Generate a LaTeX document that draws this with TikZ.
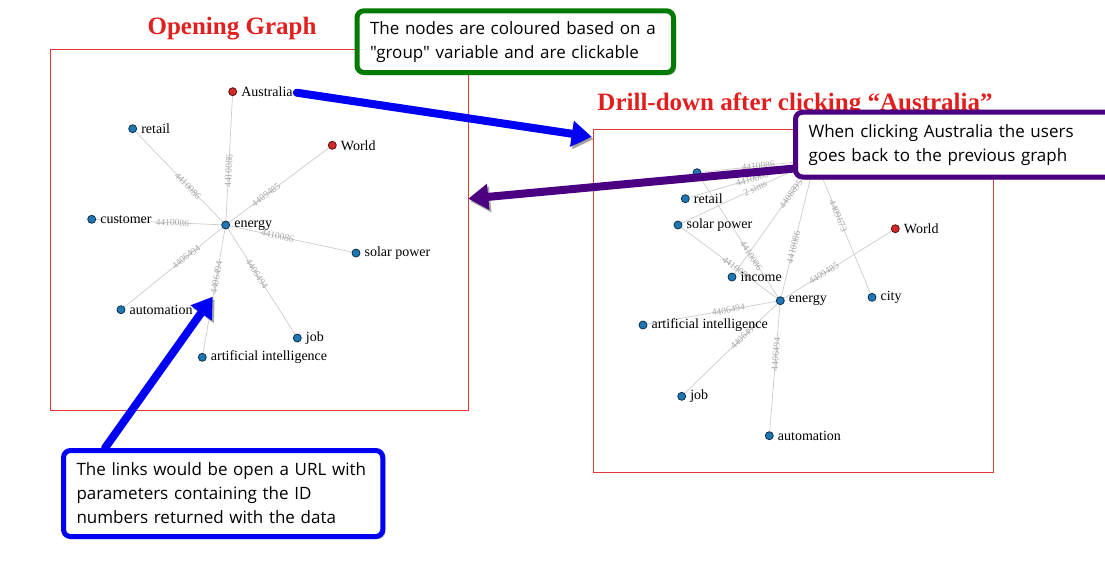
\documentclass[tikz,border=0pt]{standalone}
\usepackage{fontspec}
\setmainfont{Liberation Serif}
\newfontfamily\notefont{Open Sans}
\usetikzlibrary{arrows.meta,shadows}

\definecolor{dotblue}{HTML}{1F77B4}
\definecolor{dotred}{HTML}{D62728}
\definecolor{titlered}{HTML}{E0201E}
\definecolor{framered}{HTML}{E8353A}
\definecolor{notegreen}{HTML}{007A00}
\definecolor{notepurple}{HTML}{4B0082}
\definecolor{noteblue}{HTML}{0000F5}

\pgfdeclarelayer{links}
\pgfsetlayers{links,main}

\tikzset{
  bdot/.style={circle, fill=dotblue, draw=black!60!dotblue, line width=0.8pt,
    minimum size=8pt, inner sep=0pt},
  rdot/.style={bdot, fill=dotred, draw=black!60!dotred},
  every label/.style={font=\fontsize{14}{15}\selectfont, inner sep=0pt, xshift=4pt},
  link/.style={draw=black!20, line width=0.7pt},
  linkid/.style={sloped, font=\fontsize{9.5}{10}\selectfont, text=black!35, inner sep=0.5pt},
  title/.style={font=\bfseries\fontsize{25}{27}\selectfont, text=titlered, anchor=base},
  frame/.style={draw=framered, line width=0.7pt},
  note/.style={draw=#1, line width=5pt, rounded corners=7pt, fill=white,
    drop shadow={shadow xshift=2.5pt, shadow yshift=-2.5pt, opacity=0.55},
    anchor=north west, align=left, font=\notefont\fontsize{17}{24}\selectfont,
    inner xsep=13pt, inner ysep=0pt},
  pointer/.style={line width=8pt, #1, line cap=round,
    -{Triangle[length=20pt, width=25pt]},
    preaction={draw=black, opacity=0.35, transform canvas={shift={(2pt,-2.5pt)}}}}
}

\begin{document}
\begin{tikzpicture}[x=1pt, y=-1pt]
\useasboundingbox (0,0) rectangle (1105,566);

% Opening graph
\node[title] (topen) at (232,34) {Opening Graph};
\draw[frame] (50,49) rectangle (468,410);

\node[rdot, label={[name=auL]right:Australia}] (au) at (232.7,91.7) {};
\node[bdot, label=right:retail] (re) at (132.7,128.7) {};
\node[rdot, label=right:World] (wo) at (332.3,145.3) {};
\node[bdot, label=right:customer] (cu) at (91.7,219.3) {};
\node[bdot, label=right:energy] (en) at (225.7,225) {};
\node[bdot, label=right:solar power] (so) at (356,253) {};
\node[bdot, label=right:automation] (am) at (121,309.7) {};
\node[bdot, label=right:job] (jo) at (297.3,338) {};
\node[bdot, label=right:artificial intelligence] (ai) at (202.3,357.3) {};

\begin{pgfonlayer}{links}
\path[link] (en) -- node[linkid, pos=0.4] {4410086} (au);
\path[link] (en) -- node[linkid, pos=0.4] {4410086} (re);
\path[link] (en) -- node[linkid, pos=0.37] {4409485} (wo);
\path[link] (en) -- node[linkid, pos=0.39] {4410086} (cu);
\path[link] (en) -- node[linkid, pos=0.39] {4410086} (so);
\path[link] (en) -- node[linkid, pos=0.37] {4406494} (am);
\path[link] (en) -- node[linkid, pos=0.43] {4406494} (jo);
\path[link] (en) -- node[linkid, pos=0.39] {4406494} (ai);
\end{pgfonlayer}

% Drill-down graph
\node[title] (tdrill) at (795,110) {Drill-down after clicking “Australia”};
\draw[frame] (593,129) rectangle (993,472);

\coordinate (hub) at (815,160);
\node[bdot] (xx) at (697,172.7) {};
\node[bdot, label=right:retail] (re2) at (685.3,198.7) {};
\node[bdot, label=right:solar power] (so2) at (678,225) {};
\node[rdot, label=right:World] (wo2) at (895.3,228.7) {};
\node[bdot, label=right:income] (in2) at (732,277) {};
\node[bdot, label=right:energy] (en2) at (780.3,300.7) {};
\node[bdot, label=right:city] (ci2) at (872,297.3) {};
\node[bdot, label=right:artificial intelligence] (ai2) at (643,325) {};
\node[bdot, label=right:job] (jo2) at (681.7,396.3) {};
\node[bdot, label=right:automation] (am2) at (769.3,435.7) {};

\begin{pgfonlayer}{links}
\path[link] (hub) -- node[linkid, pos=0.5] {4410086} (xx);
\path[link] (hub) -- node[linkid, pos=0.5] {4410086} (re2);
\path[link] (hub) -- node[linkid, pos=0.45] {2 sims} (so2);
\path[link] (hub) -- node[linkid, pos=0.3] {4408895} (in2);
\path[link] (hub) -- node[linkid, pos=0.64] {4410086} (en2);
\path[link] (hub) -- node[linkid, pos=0.42] {4409673} (ci2);
\path[link] (en2) -- node[linkid, pos=0.34] {4410086} (xx);
\path[link] (en2) -- node[linkid, pos=0.42] {4410086} (so2);
\path[link] (en2) -- node[linkid, pos=0.37] {4409485} (wo2);
\path[link] (en2) -- node[linkid, pos=0.37] {4406494} (ai2);
\path[link] (en2) -- node[linkid, pos=0.36] {4406494} (jo2);
\path[link] (en2) -- node[linkid, pos=0.39] {4406494} (am2);
\end{pgfonlayer}

% Callouts
\node[note=notegreen, minimum width=316.5pt, text width=290.5pt, minimum height=61.7pt] (ngroup) at (354.5,8.3)
  {The nodes are coloured based on a\\"group" variable and are clickable};
\node[note=noteblue, minimum width=319.3pt, text width=293.3pt, minimum height=86pt] (nlinks) at (61,448)
  {The links would be open a URL with\\parameters containing the ID\\numbers returned with the data};

\coordinate (drillin) at (591.7,136.7);
\coordinate (backfrom) at (800,168);
\coordinate (backto) at (468.3,198.7);
\coordinate (linkat) at (212.7,296.7);
\draw[pointer=noteblue] (auL.east) ++(4,1) -- (drillin);
\draw[pointer=noteblue] (nlinks.north west) ++(44,0) -- (linkat);
\draw[pointer=notepurple] (backfrom) -- (backto);

\node[note=notepurple, minimum width=330pt, text width=304pt, minimum height=64.8pt] (nback) at (793,109.7)
  {When clicking Australia the users\\goes back to the previous graph};
\end{tikzpicture}
\end{document}
